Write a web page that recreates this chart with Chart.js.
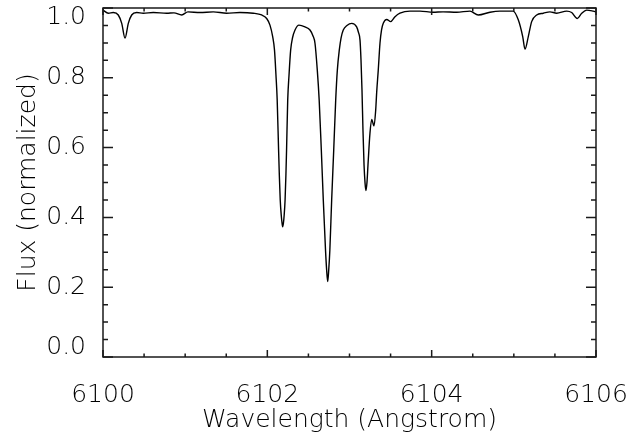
<!DOCTYPE html>
<html>
<head>
<meta charset="utf-8">
<title>Normalized flux spectrum</title>
<script src="https://cdn.jsdelivr.net/npm/chart.js@4/dist/chart.umd.min.js"></script>
<style>
  html, body { margin: 0; padding: 0; background: #ffffff; }
  #wrap { width: 629px; height: 439px; }
</style>
</head>
<body>
<div id="wrap"><canvas id="spec" width="629" height="439"></canvas></div>
<script>
// Wavelength samples (Angstrom) and normalized flux along the spectrum
const wavelength = [
  6100.000, 6100.065, 6100.125, 6100.186, 6100.228, 6100.268, 6100.308, 6100.349,
  6100.410, 6100.490, 6100.612, 6100.775, 6100.864, 6100.958, 6101.034, 6101.180,
  6101.342, 6101.505, 6101.667, 6101.829, 6101.931, 6101.992, 6102.032, 6102.065,
  6102.087, 6102.105, 6102.120, 6102.137, 6102.146, 6102.157, 6102.169, 6102.179,
  6102.187, 6102.196, 6102.205, 6102.216, 6102.226, 6102.234, 6102.248, 6102.264,
  6102.284, 6102.306, 6102.337, 6102.385,
  6102.458, 6102.519, 6102.556, 6102.580, 6102.608, 6102.631, 6102.657, 6102.681,
  6102.708, 6102.722, 6102.735, 6102.747, 6102.761, 6102.783, 6102.808, 6102.832,
  6102.852, 6102.876, 6102.897, 6102.924, 6102.969, 6103.027, 6103.087, 6103.108,
  6103.128, 6103.140, 6103.152, 6103.164, 6103.177, 6103.189, 6103.200, 6103.213,
  6103.225, 6103.249, 6103.270, 6103.298, 6103.319, 6103.331, 6103.350, 6103.371,
  6103.390, 6103.411, 6103.453, 6103.501, 6103.554, 6103.614, 6103.736, 6103.858,
  6104.016, 6104.138, 6104.305, 6104.466, 6104.567, 6104.710, 6104.831, 6104.990,
  6105.054, 6105.108, 6105.136, 6105.176, 6105.217, 6105.278, 6105.359, 6105.440,
  6105.521, 6105.643, 6105.704, 6105.772, 6105.826, 6105.887, 6105.967, 6106.000
];
const flux = [
  0.994, 0.985, 0.987, 0.980, 0.956, 0.914, 0.956, 0.980,
  0.987, 0.985, 0.987, 0.985, 0.986, 0.980, 0.989, 0.987,
  0.989, 0.985, 0.987, 0.985, 0.980, 0.970, 0.951, 0.918,
  0.880, 0.808, 0.736, 0.593, 0.521, 0.450, 0.407, 0.384,
  0.373, 0.384, 0.407, 0.450, 0.521, 0.593, 0.736, 0.808,
  0.880, 0.914, 0.937, 0.951,
  0.946, 0.937, 0.920, 0.899, 0.822, 0.736, 0.593, 0.450,
  0.307, 0.249, 0.216, 0.249, 0.307, 0.450, 0.593, 0.736,
  0.822, 0.880, 0.914, 0.937, 0.950, 0.956, 0.946, 0.931,
  0.908, 0.851, 0.765, 0.650, 0.550, 0.499, 0.477, 0.501,
  0.550, 0.641, 0.681, 0.662, 0.708, 0.759, 0.822, 0.899,
  0.937, 0.956, 0.967, 0.961, 0.975, 0.985, 0.991, 0.991,
  0.988, 0.989, 0.988, 0.991, 0.980, 0.988, 0.991, 0.991,
  0.966, 0.918, 0.882, 0.918, 0.961, 0.980, 0.985, 0.989,
  0.985, 0.991, 0.987, 0.970, 0.985, 0.994, 0.991, 0.989
];

// Axis ticks: labelled majors and the number of minor intervals between them
const xMajorTicks = [6100, 6102, 6104, 6106];
const yMajorTicks = [0.0, 0.2, 0.4, 0.6, 0.8, 1.0];
const xMinorDivisions = 4;
const yMinorDivisions = 4;

const xTitle = 'Wavelength (Angstrom)';
const yTitle = 'Flux (normalized)';

const FONT_FAMILY = '"DejaVu Sans", "Liberation Sans", sans-serif';
const INK = '#000000';

const points = wavelength.map((w, i) => ({ x: w, y: flux[i] }));

// Inward-pointing ticks on all four sides plus the box frame
const framePlugin = {
  id: 'boxFrame',
  afterDatasetsDraw(chart) {
    const { ctx, chartArea: a, scales: { x, y } } = chart;
    ctx.save();
    ctx.strokeStyle = '#1a1a1a';
    ctx.lineWidth = 1.5;
    ctx.lineCap = 'butt';

    const xMajLen = 7, xMinLen = 3.5, yMajLen = 10, yMinLen = 5;
    ctx.beginPath();
    // x ticks (bottom and top)
    for (let i = 0; i < xMajorTicks.length; i++) {
      const v = xMajorTicks[i];
      const px = x.getPixelForValue(v);
      ctx.moveTo(px, a.bottom); ctx.lineTo(px, a.bottom - xMajLen);
      ctx.moveTo(px, a.top); ctx.lineTo(px, a.top + xMajLen);
      if (i < xMajorTicks.length - 1) {
        const step = (xMajorTicks[i + 1] - v) / xMinorDivisions;
        for (let k = 1; k < xMinorDivisions; k++) {
          const mp = x.getPixelForValue(v + k * step);
          ctx.moveTo(mp, a.bottom); ctx.lineTo(mp, a.bottom - xMinLen);
          ctx.moveTo(mp, a.top); ctx.lineTo(mp, a.top + xMinLen);
        }
      }
    }
    // y ticks (left and right)
    for (let i = 0; i < yMajorTicks.length; i++) {
      const v = yMajorTicks[i];
      const py = y.getPixelForValue(v);
      ctx.moveTo(a.left, py); ctx.lineTo(a.left + yMajLen, py);
      ctx.moveTo(a.right, py); ctx.lineTo(a.right - yMajLen, py);
      if (i < yMajorTicks.length - 1) {
        const step = (yMajorTicks[i + 1] - v) / yMinorDivisions;
        for (let k = 1; k < yMinorDivisions; k++) {
          const mp = y.getPixelForValue(v + k * step);
          ctx.moveTo(a.left, mp); ctx.lineTo(a.left + yMinLen, mp);
          ctx.moveTo(a.right, mp); ctx.lineTo(a.right - yMinLen, mp);
        }
      }
    }
    ctx.stroke();

    ctx.strokeRect(a.left, a.top, a.right - a.left, a.bottom - a.top);
    ctx.restore();
  }
};

new Chart(document.getElementById('spec'), {
  type: 'line',
  data: {
    datasets: [{
      data: points,
      borderColor: INK,
      borderWidth: 1.4,
      pointRadius: 0,
      fill: false,
      cubicInterpolationMode: 'monotone'
    }]
  },
  options: {
    responsive: false,
    animation: false,
    devicePixelRatio: 1,
    layout: { padding: { top: 8, right: 33, bottom: 0, left: 0 } },
    plugins: { legend: { display: false }, tooltip: { enabled: false } },
    scales: {
      x: {
        type: 'linear',
        min: 6100,
        max: 6106,
        afterBuildTicks(scale) { scale.ticks = xMajorTicks.map(v => ({ value: v })); },
        afterFit(scale) { scale.height = 82; scale.paddingLeft = 0; scale.paddingRight = 0; },
        grid: { display: false },
        border: { display: false },
        ticks: {
          autoSkip: false,
          maxRotation: 0,
          padding: 15,
          color: INK,
          font: { family: FONT_FAMILY, size: 25, weight: '200' },
          callback: v => v.toFixed(0)
        },
        title: {
          display: true,
          text: xTitle,
          color: INK,
          font: { family: FONT_FAMILY, size: 25, weight: '200' },
          padding: { top: 0, bottom: 4 }
        }
      },
      y: {
        type: 'linear',
        min: 0,
        max: 1.0,
        afterBuildTicks(scale) { scale.ticks = yMajorTicks.map(v => ({ value: v })); },
        afterFit(scale) { scale.width = 103; scale.paddingTop = 0; scale.paddingBottom = 0; },
        grid: { display: false },
        border: { display: false },
        ticks: {
          autoSkip: false,
          padding: 9,
          color: INK,
          font: { family: FONT_FAMILY, size: 25, weight: '200', lineHeight: '19px' },
          // end labels are nudged inside the frame
          callback: v => {
            const s = v.toFixed(1);
            if (v === 0) return [s, ''];
            if (v === 1) return ['', s];
            return s;
          }
        },
        title: {
          display: true,
          text: yTitle,
          color: INK,
          font: { family: FONT_FAMILY, size: 25, weight: '200' },
          padding: { top: 13, bottom: 0 }
        }
      }
    }
  },
  plugins: [framePlugin]
});
</script>
</body>
</html>
